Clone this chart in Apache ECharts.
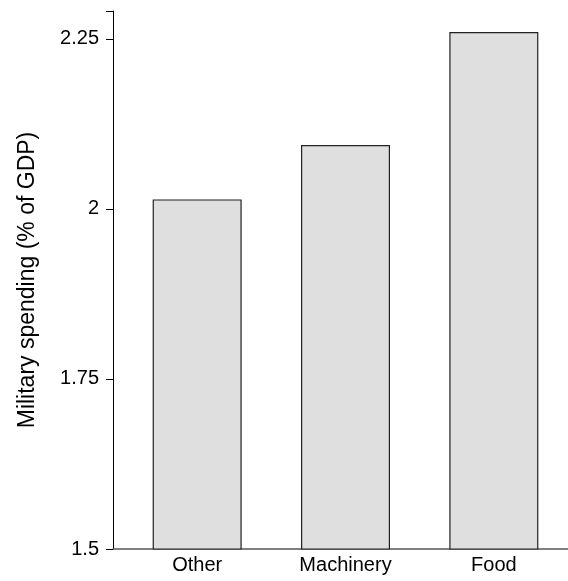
<!DOCTYPE html>
<html>
<head>
<meta charset="utf-8">
<script src="https://cdn.jsdelivr.net/npm/echarts@6/dist/echarts.min.js"></script>
<style>html,body{margin:0;padding:0;background:#fff}#c{width:568px;height:581px}</style>
</head>
<body>
<div id="c"></div>
<script>
const categories = ["Other", "Machinery", "Food"];
const values = [2.014, 2.094, 2.26];
const yTicks = [1.5, 1.75, 2, 2.25];
const yTitle = "Military spending (% of GDP)";

const FONT = "Liberation Sans, Arial, sans-serif";
const yMin = 1.5, yMax = 2.291;
const chart = echarts.init(document.getElementById('c'));
chart.setOption({
  animation: false,
  backgroundColor: '#fff',
  grid: [
    { left: 113, right: 0, top: 11, bottom: 32 },
    { left: 123, right: 0, top: 11, bottom: 32 }
  ],
  xAxis: [
    { gridIndex: 0, type: 'value', min: 0, max: 1, axisLine: { show: true, lineStyle: { color: '#555', width: 1.5 } },
      axisTick: { show: false }, axisLabel: { show: false }, splitLine: { show: false } },
    { gridIndex: 1, type: 'category', data: categories, axisLine: { show: false }, axisTick: { show: false },
      axisLabel: { color: '#000', fontSize: 20, fontFamily: FONT, margin: 6 } }
  ],
  yAxis: [
    { gridIndex: 0, type: 'value', min: yMin, max: yMax, interval: 0.25,
      axisLine: { show: true, onZero: false, lineStyle: { color: '#000', width: 1 } },
      axisTick: { show: true, length: 7, lineStyle: { color: '#000' } },
      axisLabel: { color: '#000', fontSize: 20, fontFamily: FONT, margin: 14,
        formatter: v => yTicks.some(t => Math.abs(t - v) < 1e-9) ? String(v) : '' },
      splitLine: { show: false },
      name: yTitle, nameLocation: 'middle', nameGap: 74, nameRotate: 90,
      nameTextStyle: { color: '#000', fontSize: 23, fontFamily: FONT } },
    { gridIndex: 1, type: 'value', min: yMin, max: yMax, show: false, splitLine: { show: false } }
  ],
  series: [{
    type: 'bar', xAxisIndex: 1, yAxisIndex: 1, data: values, barWidth: '60%',
    itemStyle: { color: '#dfdfdf', borderColor: '#222', borderWidth: 1.2 }
  }]
});
</script>
</body>
</html>
